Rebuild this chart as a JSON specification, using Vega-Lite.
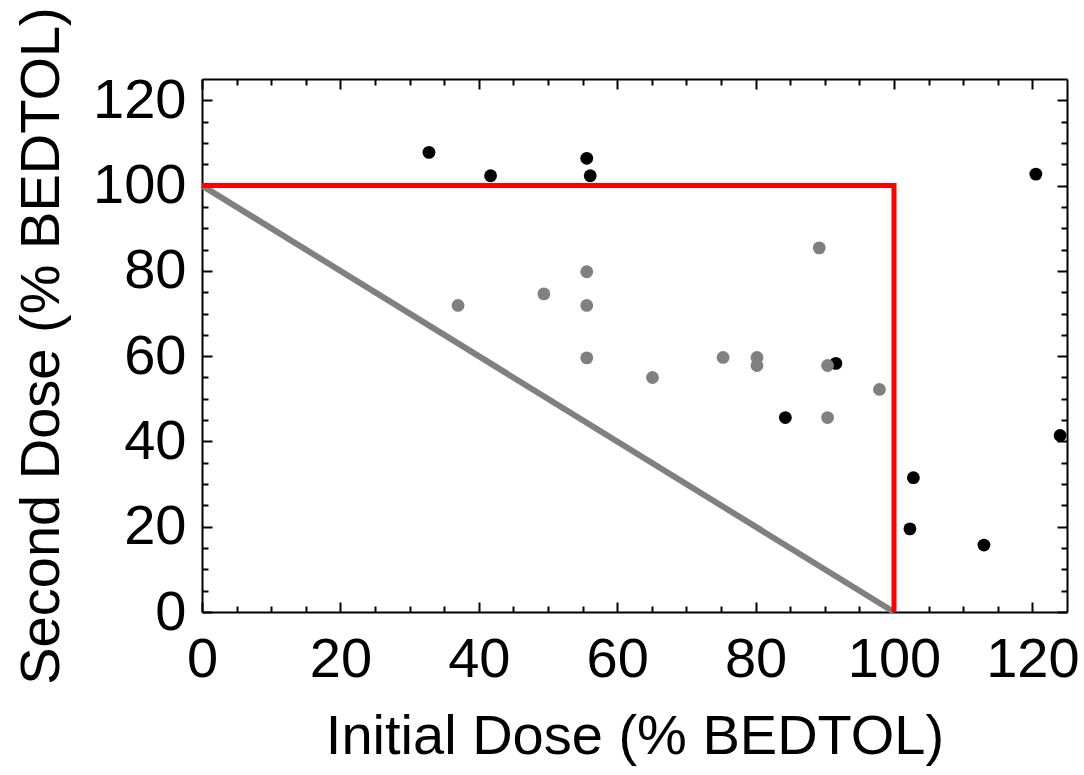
{
  "$schema": "https://vega.github.io/schema/vega-lite/v6.json",
  "width": 865,
  "height": 533,
  "autosize": {"type": "none"},
  "padding": {"left": 202, "top": 79, "right": 17, "bottom": 163},
  "background": "#ffffff",
  "datasets": {
    "diag": [{"x": 0, "y": 100, "i": 0}, {"x": 100, "y": 0, "i": 1}],
    "box": [{"x": 0, "y": 100, "i": 0}, {"x": 100, "y": 100, "i": 1}, {"x": 100, "y": 0, "i": 2}],
    "points": [
      {"initial": 32.8, "second": 107.8, "group": "B"},
      {"initial": 41.7, "second": 102.3, "group": "B"},
      {"initial": 55.6, "second": 106.4, "group": "B"},
      {"initial": 56.1, "second": 102.3, "group": "B"},
      {"initial": 120.5, "second": 102.7, "group": "B"},
      {"initial": 91.6, "second": 58.3, "group": "B"},
      {"initial": 84.3, "second": 45.6, "group": "B"},
      {"initial": 124.0, "second": 41.4, "group": "B"},
      {"initial": 102.8, "second": 31.5, "group": "B"},
      {"initial": 102.3, "second": 19.5, "group": "B"},
      {"initial": 113.0, "second": 15.7, "group": "B"},
      {"initial": 37.0, "second": 71.9, "group": "G"},
      {"initial": 49.4, "second": 74.6, "group": "G"},
      {"initial": 55.6, "second": 79.8, "group": "G"},
      {"initial": 55.6, "second": 71.9, "group": "G"},
      {"initial": 55.6, "second": 59.6, "group": "G"},
      {"initial": 65.1, "second": 55.0, "group": "G"},
      {"initial": 75.3, "second": 59.7, "group": "G"},
      {"initial": 80.2, "second": 59.7, "group": "G"},
      {"initial": 80.2, "second": 57.8, "group": "G"},
      {"initial": 89.2, "second": 85.4, "group": "G"},
      {"initial": 90.4, "second": 57.8, "group": "G"},
      {"initial": 90.4, "second": 45.6, "group": "G"},
      {"initial": 97.9, "second": 52.2, "group": "G"}
    ]
  },
  "resolve": {"axis": {"x": "independent", "y": "independent"}},
  "layer": [
    {
      "data": {"name": "diag"},
      "mark": {"type": "line", "color": "#808080", "strokeWidth": 6},
      "encoding": {
        "x": {"field": "x", "type": "quantitative", "scale": {"domain": [0, 125], "nice": false, "zero": false},
          "axis": {"orient": "bottom", "values": [0, 20, 40, 60, 80, 100, 120], "tickSize": -10, "labelPadding": 30, "title": "Initial Dose (% BEDTOL)", "titlePadding": 22, "labelFlush": false, "labelOverlap": false}},
        "y": {"field": "y", "type": "quantitative", "scale": {"domain": [0, 125], "nice": false, "zero": false},
          "axis": {"orient": "left", "values": [0, 20, 40, 60, 80, 100, 120], "tickSize": -10, "labelPadding": 26, "title": "Second Dose (% BEDTOL)", "titlePadding": 22, "labelFlush": false, "labelOverlap": false}},
        "order": {"field": "i", "type": "quantitative"}
      }
    },
    {
      "data": {"name": "box"},
      "mark": {"type": "line", "color": "#ff0000", "strokeWidth": 5},
      "encoding": {
        "x": {"field": "x", "type": "quantitative", "scale": {"domain": [0, 125], "nice": false, "zero": false},
          "axis": {"orient": "top", "values": [0, 20, 40, 60, 80, 100, 120], "tickSize": -10, "labels": false, "title": null}},
        "y": {"field": "y", "type": "quantitative", "scale": {"domain": [0, 125], "nice": false, "zero": false},
          "axis": {"orient": "right", "values": [0, 20, 40, 60, 80, 100, 120], "tickSize": -10, "labels": false, "title": null}},
        "order": {"field": "i", "type": "quantitative"}
      }
    },
    {
      "data": {"name": "points"},
      "transform": [{"filter": "datum.group === 'B'"}],
      "mark": {"type": "circle", "size": 165, "opacity": 1, "color": "#000000"},
      "encoding": {
        "x": {"field": "initial", "type": "quantitative", "scale": {"domain": [0, 125], "nice": false, "zero": false},
          "axis": {"orient": "bottom", "values": [5, 10, 15, 25, 30, 35, 45, 50, 55, 65, 70, 75, 85, 90, 95, 105, 110, 115], "tickSize": -6, "labels": false, "domain": false, "title": null}},
        "y": {"field": "second", "type": "quantitative", "scale": {"domain": [0, 125], "nice": false, "zero": false},
          "axis": {"orient": "left", "values": [5, 10, 15, 25, 30, 35, 45, 50, 55, 65, 70, 75, 85, 90, 95, 105, 110, 115], "tickSize": -6, "labels": false, "domain": false, "title": null}}
      }
    },
    {
      "data": {"name": "points"},
      "transform": [{"filter": "datum.group === 'G'"}],
      "mark": {"type": "circle", "size": 165, "opacity": 1, "color": "#808080"},
      "encoding": {
        "x": {"field": "initial", "type": "quantitative", "scale": {"domain": [0, 125], "nice": false, "zero": false},
          "axis": {"orient": "top", "values": [5, 10, 15, 25, 30, 35, 45, 50, 55, 65, 70, 75, 85, 90, 95, 105, 110, 115], "tickSize": -6, "labels": false, "domain": false, "title": null}},
        "y": {"field": "second", "type": "quantitative", "scale": {"domain": [0, 125], "nice": false, "zero": false},
          "axis": {"orient": "right", "values": [5, 10, 15, 25, 30, 35, 45, 50, 55, 65, 70, 75, 85, 90, 95, 105, 110, 115], "tickSize": -6, "labels": false, "domain": false, "title": null}}
      }
    }
  ],
  "config": {
    "view": {"stroke": null},
    "axis": {
      "grid": false,
      "domainColor": "#000000",
      "domainWidth": 2,
      "tickColor": "#000000",
      "tickWidth": 2,
      "labelFont": "Liberation Sans",
      "labelFontSize": 56,
      "labelColor": "#000000",
      "titleFont": "Liberation Sans",
      "titleFontSize": 56,
      "titleFontWeight": "normal",
      "titleColor": "#000000"
    }
  }
}
